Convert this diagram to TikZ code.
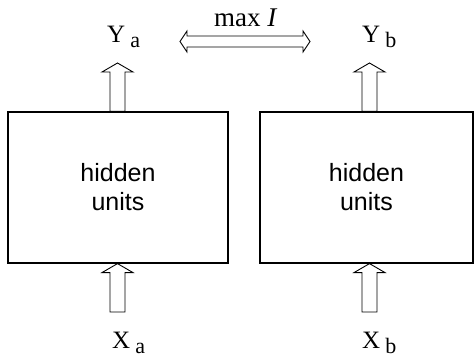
\documentclass[tikz,border=0pt]{standalone}
\usepackage{fontspec}
\setmainfont{Liberation Serif}
\newfontfamily\unitfont{Liberation Sans}
\usepackage{tikz}
\usetikzlibrary{calc, positioning}

\newcommand{\subl}[1]{\hspace{5pt}\raisebox{-5pt}{\fontsize{22}{22}\selectfont #1}}

\begin{document}
\begin{tikzpicture}[
    x=1pt, y=1pt,
    %% Hidden-unit boxes
    hbox/.style = {
      draw=black, line width=1.2pt,
      minimum height=151pt, align=center,
      font=\unitfont\fontsize{25}{29}\selectfont},
    %% Input / output labels
    lbl/.style = {
      anchor=base west, inner sep=0pt,
      font=\fontsize{25}{25}\selectfont},
    %% Hollow block arrow, pointing up (start = tail, target = tip)
    harr/.style = {
      draw=black, line width=0.9pt, line join=miter,
      to path={let \p1=(\tikztostart), \p2=(\tikztotarget) in
        (\x1-7.5pt,\y1) -- (\x1-7.5pt,\y2-9pt) -- (\x1-15.5pt,\y2-9pt)
        -- (\x2,\y2) -- (\x1+15.5pt,\y2-9pt) -- (\x1+7.5pt,\y2-9pt)
        -- (\x1+7.5pt,\y1) -- cycle}},
    %% Hollow double-headed arrow (start = left tip, target = right tip)
    darr/.style = {
      draw=black, line width=0.9pt, line join=miter,
      to path={let \p1=(\tikztostart), \p2=(\tikztotarget) in
        (\x1,\y1) -- (\x1+7pt,\y1+10.5pt) -- (\x1+7pt,\y1+5.5pt)
        -- (\x2-7pt,\y1+5.5pt) -- (\x2-7pt,\y1+10.5pt) -- (\x2,\y1)
        -- (\x2-7pt,\y1-10.5pt) -- (\x2-7pt,\y1-5.5pt)
        -- (\x1+7pt,\y1-5.5pt) -- (\x1+7pt,\y1-10.5pt) -- cycle}},
  ]
    \useasboundingbox (0,0) rectangle (474,359);

    %% -- hidden units --------------------------------------------------
    \node[hbox, minimum width=220pt] (Ha) at (118,171.5)   {hidden\\units};
    \node[hbox, minimum width=213pt] (Hb) at (366.5,171.5) {hidden\\units};

    %% -- arrow end points ----------------------------------------------
    \coordinate (xa) at (117.5,47);  \coordinate (ya) at (117.5,296);
    \coordinate (xb) at (369.5,47);  \coordinate (yb) at (369.5,296);

    \draw[harr] (xa) to (xa|-Ha.south);
    \draw[harr] (ya|-Ha.north) to (ya);
    \draw[harr] (xb) to (xb|-Hb.south);
    \draw[harr] (yb|-Hb.north) to (yb);

    %% -- labels ----------------------------------------------------------
    \node[lbl] (Xa) at (112,11)  {X\subl{a}};
    \node[lbl] (Ya) at (107,316) {Y\subl{a}};
    \node[lbl] (Xb) at (362,11)  {X\subl{b}};
    \node[lbl] (Yb) at (362,316) {Y\subl{b}};

    %% -- max I between the outputs ---------------------------------------
    \coordinate (mL) at (180,317.5);
    \coordinate (mR) at (310,317.5);
    \draw[darr] (mL) to (mR);
    \node[lbl, font=\fontsize{27}{27}\selectfont] (mi) at (214,332) {max \textit{I}};

  \end{tikzpicture}
\end{document}
